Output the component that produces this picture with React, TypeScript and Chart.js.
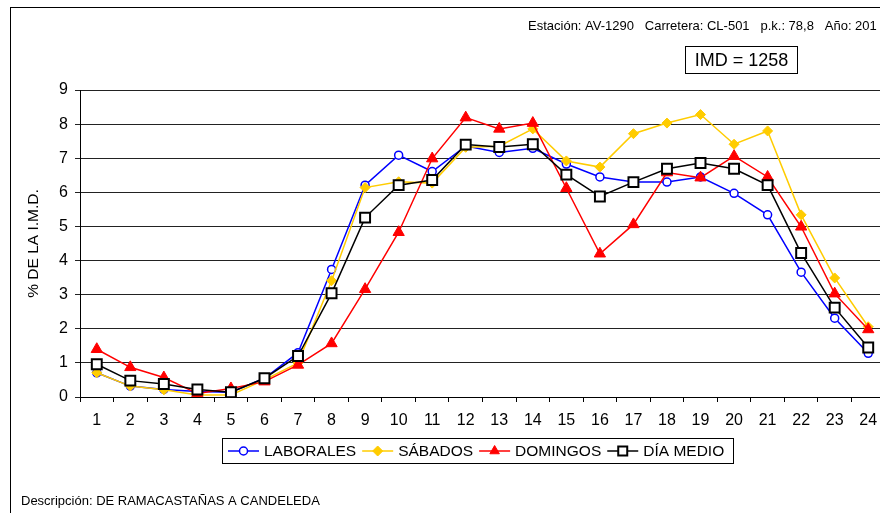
import React, { useEffect, useRef } from "react";
import { Chart, registerables } from "chart.js";

Chart.register(...registerables);

const hours = ["1","2","3","4","5","6","7","8","9","10","11","12","13","14","15","16","17","18","19","20","21","22","23","24"];
const laborales = [0.71,0.32,0.22,0.16,0.14,0.55,1.30,3.74,6.21,7.09,6.61,7.36,7.17,7.29,6.83,6.45,6.30,6.30,6.45,5.97,5.34,3.66,2.31,1.28];
const sabados = [0.71,0.32,0.21,0.06,0.06,0.50,1.00,3.41,6.14,6.31,6.27,7.32,7.35,7.86,6.92,6.74,7.72,8.03,8.28,7.41,7.80,5.34,3.49,2.06];
const domingos = [1.40,0.87,0.57,0.10,0.25,0.45,0.94,1.57,3.16,4.83,6.99,8.19,7.86,8.03,6.12,4.20,5.06,6.58,6.43,7.06,6.45,4.99,3.03,1.98];
const diaMedio = [0.96,0.48,0.38,0.22,0.14,0.55,1.20,3.04,5.26,6.21,6.36,7.40,7.33,7.41,6.52,5.88,6.30,6.69,6.86,6.69,6.21,4.22,2.62,1.45];
const seriesNames = ["LABORALES", "SÁBADOS", "DOMINGOS", "DÍA MEDIO"];
const headerParts = ["Estación: AV-1290", "Carretera: CL-501", "p.k.: 78,8", "Año: 201"];
const imdText = "IMD = 1258";
const yTitle = "% DE LA I.M.D.";
const description = "Descripción: DE RAMACASTAÑAS A CANDELEDA";

const FONT = '"Liberation Sans", Arial, sans-serif';

type Style = { color: string; shape: string; fill: string; r: number; bw: number };
const styles: Style[] = [
  { color: "#0000FF", shape: "circle", fill: "#FFFFFF", r: 4, bw: 1.5 },
  { color: "#FFCC00", shape: "diamond", fill: "#FFCC00", r: 5, bw: 1 },
  { color: "#FF0000", shape: "triangle", fill: "#FF0000", r: 6, bw: 1 },
  { color: "#000000", shape: "square", fill: "#FFFFFF", r: 5, bw: 2 },
];

function drawMarker(ctx: CanvasRenderingContext2D, s: Style, x: number, y: number) {
  ctx.save();
  ctx.fillStyle = s.fill;
  ctx.strokeStyle = s.color;
  ctx.lineWidth = s.bw;
  ctx.beginPath();
  if (s.shape === "circle") {
    ctx.arc(x, y, s.r, 0, Math.PI * 2);
  } else if (s.shape === "diamond") {
    ctx.moveTo(x, y - s.r);
    ctx.lineTo(x + s.r, y);
    ctx.lineTo(x, y + s.r);
    ctx.lineTo(x - s.r, y);
    ctx.closePath();
  } else if (s.shape === "triangle") {
    ctx.moveTo(x, y - s.r);
    ctx.lineTo(x + s.r * 0.866, y + s.r / 2);
    ctx.lineTo(x - s.r * 0.866, y + s.r / 2);
    ctx.closePath();
  } else {
    ctx.rect(x - s.r, y - s.r, s.r * 2, s.r * 2);
  }
  ctx.fill();
  ctx.stroke();
  ctx.restore();
}

const decor = {
  id: "decor",
  beforeDraw(chart: any) {
    const ctx: CanvasRenderingContext2D = chart.ctx;
    ctx.save();
    ctx.fillStyle = "#FFFFFF";
    ctx.fillRect(0, 0, chart.width, chart.height);
    ctx.strokeStyle = "#000";
    ctx.lineWidth = 1;
    ctx.strokeRect(10.5, 7.5, chart.width + 100, chart.height + 100);
    ctx.restore();
  },
  afterDraw(chart: any) {
    const ctx: CanvasRenderingContext2D = chart.ctx;
    ctx.save();
    ctx.fillStyle = "#000";
    ctx.textBaseline = "middle";
    // header
    ctx.font = `13px ${FONT}`;
    const gap = ctx.measureText("   ").width;
    let hx = 528;
    headerParts.forEach((p) => {
      ctx.fillText(p, hx, 26);
      hx += ctx.measureText(p).width + gap;
    });
    // IMD box
    ctx.strokeStyle = "#000";
    ctx.lineWidth = 1;
    ctx.strokeRect(685.5, 46.5, 112, 27);
    ctx.font = `18px ${FONT}`;
    ctx.textAlign = "center";
    ctx.fillText(imdText, 741.5, 61);
    ctx.textAlign = "left";
    // legend
    ctx.strokeRect(222.5, 438.5, 511, 25);
    ctx.font = `15.5px ${FONT}`;
    let lx = 228;
    const ly = 451;
    seriesNames.forEach((name, i) => {
      const s = styles[i];
      ctx.strokeStyle = s.color;
      ctx.lineWidth = 1.5;
      ctx.beginPath();
      ctx.moveTo(lx, ly);
      ctx.lineTo(lx + 31, ly);
      ctx.stroke();
      const ls = { ...s, r: s.shape === "square" ? 4.5 : s.shape === "triangle" ? 5.5 : s.r };
      drawMarker(ctx, ls, lx + 15.5, ly);
      ctx.fillStyle = "#000";
      ctx.fillText(name, lx + 36, ly + 1);
      lx += 36 + ctx.measureText(name).width + 6;
    });
    // description
    ctx.font = `13px ${FONT}`;
    ctx.fillText(description, 21, 501);
    ctx.restore();
  },
};

export default function App() {
  const ref = useRef<HTMLCanvasElement | null>(null);
  useEffect(() => {
    if (!ref.current) return;
    const mk = (label: string, data: number[], i: number, order: number) => {
      const s = styles[i];
      const ps = s.shape === "circle" ? "circle" : s.shape === "diamond" ? "rectRot" : s.shape === "triangle" ? "triangle" : "rect";
      const radius = s.shape === "square" ? 7 : s.shape === "triangle" ? 6.5 : s.r;
      return {
        label,
        data,
        order,
        borderColor: s.color,
        backgroundColor: s.fill,
        borderWidth: 1.5,
        tension: 0,
        pointStyle: ps,
        pointRadius: radius,
        pointBackgroundColor: s.fill,
        pointBorderColor: s.color,
        pointBorderWidth: s.bw,
        fill: false,
      };
    };
    const chart = new Chart(ref.current, {
      type: "line",
      data: {
        labels: hours,
        datasets: [
          mk(seriesNames[0], laborales, 0, 4),
          mk(seriesNames[1], sabados, 1, 3),
          mk(seriesNames[2], domingos, 2, 2),
          mk(seriesNames[3], diaMedio, 3, 1),
        ] as any,
      },
      options: {
        animation: false,
        responsive: false,
        devicePixelRatio: 1,
        layout: { padding: { top: 90, left: 0, right: 15, bottom: 0 } },
        plugins: { legend: { display: false }, tooltip: { enabled: false } },
        scales: {
          x: {
            type: "category",
            offset: true,
            grid: { offset: true, drawOnChartArea: false, drawTicks: true, tickLength: 5, color: "#000" },
            border: { color: "#000", width: 1 },
            ticks: { color: "#000", font: { size: 16, family: FONT }, padding: 9, maxRotation: 0, autoSkip: false },
            afterFit: (scale: any) => { scale.height = 116; },
          },
          y: {
            min: 0,
            max: 9,
            grid: { color: "#222", tickLength: 5 },
            border: { color: "#000", width: 1 },
            ticks: { stepSize: 1, color: "#000", font: { size: 16, family: FONT }, padding: 7 },
            title: { display: true, text: yTitle, color: "#000", font: { size: 15.5, family: FONT }, padding: { top: 24, bottom: 0 } },
            afterFit: (scale: any) => { scale.width = 80; },
          },
        },
      },
      plugins: [decor],
    });
    return () => chart.destroy();
  }, []);
  return (
    <div style={{ position: "fixed", left: 0, top: 0, width: 880, height: 513, overflow: "hidden", background: "#fff" }}>
      <canvas ref={ref} width={900} height={513} style={{ display: "block" }} />
    </div>
  );
}
